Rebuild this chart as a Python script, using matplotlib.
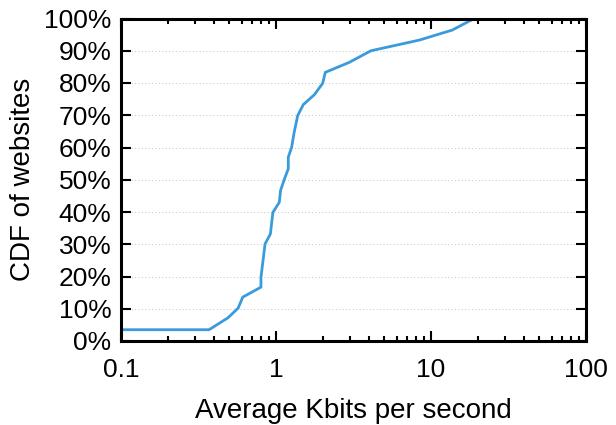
import matplotlib
matplotlib.use("Agg")
import matplotlib.pyplot as plt
from matplotlib.ticker import FuncFormatter, LogLocator, MultipleLocator

plt.rcParams['font.family'] = ['Liberation Sans', 'DejaVu Sans']

# data (Kbits/s, CDF %)
kbits = [0.1, 0.37, 0.49, 0.57, 0.61, 0.80, 0.80, 0.85, 0.92, 0.955, 1.05, 1.07,
         1.135, 1.20, 1.20, 1.26, 1.31, 1.38, 1.50, 1.77, 2.0, 2.08, 2.97, 4.1,
         8.4, 13.7, 19.0]
cdf = [3.5, 3.5, 7.2, 10.2, 13.6, 16.7, 19.8, 30.1, 33.2, 39.9, 43.0, 46.7,
       50.3, 53.4, 57.0, 60.0, 64.7, 69.9, 73.3, 76.4, 79.9, 83.3, 86.4, 90.0,
       93.3, 96.4, 100.0]

fig = plt.figure(figsize=(6.16, 4.25), dpi=100)
ax = fig.add_axes([121/616, 1 - 341/425, 465/616, 322.5/425])

ax.plot(kbits, cdf, color='#3a9bdc', linewidth=2)

ax.set_xscale('log')
ax.set_xlim(0.1, 100)
ax.set_ylim(0, 100)
ax.yaxis.set_major_locator(MultipleLocator(10))
ax.yaxis.set_major_formatter(FuncFormatter(lambda v, p: '%d%%' % v))
ax.xaxis.set_major_locator(LogLocator(base=10))
ax.xaxis.set_minor_locator(LogLocator(base=10, subs=range(2, 10)))
ax.xaxis.set_major_formatter(FuncFormatter(lambda v, p: '%g' % v))

ax.grid(axis='y', linestyle=(0, (1, 2.5)), color='#c4c4c4', linewidth=0.7)
ax.set_axisbelow(True)

for s in ax.spines.values():
    s.set_linewidth(2.2)
ax.tick_params(which='both', direction='in', top=True, right=True,
               labelsize=19, width=1.5)
ax.tick_params(which='major', length=7)
ax.tick_params(axis='x', which='major', pad=12)
ax.tick_params(axis='y', which='major', pad=7)
ax.tick_params(which='minor', length=3.5)
ax.tick_params(axis='y', which='minor', left=False, right=False)

ax.set_xlabel('Average Kbits per second', fontsize=20, labelpad=12)
ax.set_ylabel('CDF of websites', fontsize=20, labelpad=6)

fig.savefig('out.png', dpi=100)
